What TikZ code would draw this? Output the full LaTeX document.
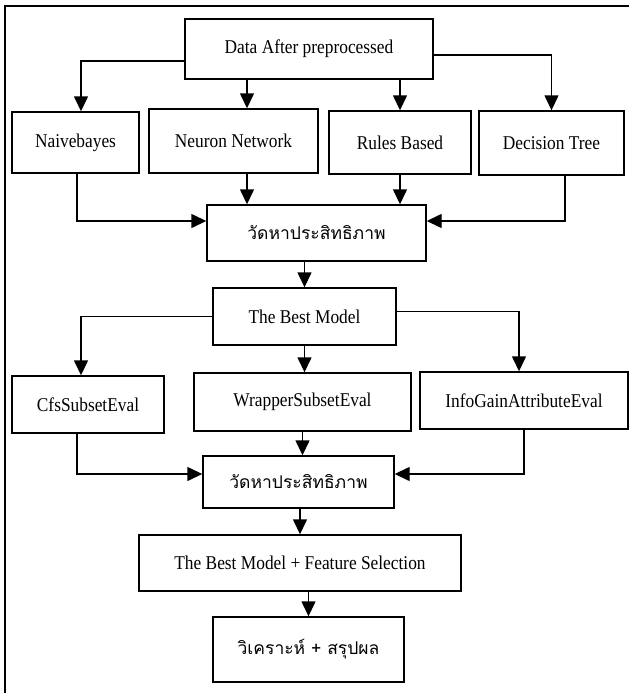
\documentclass[tikz,border=0pt]{standalone}
\usepackage{fontspec}
\setmainfont{Liberation Serif}[FakeStretch=0.89]
\newfontfamily\thaifont[Script=Thai]{Loma}
\usetikzlibrary{arrows.meta}

\begin{document}
\begin{tikzpicture}[x=1pt,y=-1pt,
  main/.style = {draw, line width=1.4pt, inner sep=0pt, font=\fontsize{19.5}{23}\selectfont},
  thai/.style = {font=\thaifont\fontsize{17.5}{22}\selectfont},
  arr/.style = {line width=1.4pt, -{Triangle[length=15pt,width=14pt]}}]
\useasboundingbox (0,0) rectangle (629,693);
\draw[line width=1.4pt] (5,693) -- (5,6) -- (629,6);
\node[main, minimum width=248pt, minimum height=60pt] (data) at (309,49) {Data After preprocessed};
\node[main, minimum width=127pt, minimum height=61pt] (nb) at (75.5,142.5) {Naivebayes};
\node[main, minimum width=169pt, minimum height=64pt] (nn) at (233.5,141) {Neuron Network};
\node[main, minimum width=142pt, minimum height=63pt] (rb) at (400,142.5) {Rules Based};
\node[main, minimum width=145pt, minimum height=64pt] (dt) at (551.5,143) {Decision Tree};
\node[main, thai, minimum width=219pt, minimum height=56pt] (eval1) at (316.5,233) {วัดหาประสิทธิภาพ};
\node[main, minimum width=183pt, minimum height=57pt] (best) at (304.5,316.5) {The Best Model};
\node[main, minimum width=152pt, minimum height=57pt] (cfs) at (88,404.5) {CfsSubsetEval};
\node[main, minimum width=217pt, minimum height=58pt] (wrap) at (302.5,402) {WrapperSubsetEval};
\node[main, minimum width=208pt, minimum height=57pt] (info) at (524,400.5) {InfoGainAttributeEval};
\node[main, thai, minimum width=191pt, minimum height=52pt] (eval2) at (298.5,482) {วัดหาประสิทธิภาพ};
\node[main, minimum width=322pt, minimum height=56pt] (bestfs) at (300,563) {The Best Model + Feature Selection};
\node[main, thai, minimum width=191pt, minimum height=65pt] (concl) at (308.5,649.5) {วิเคราะห์ + สรุปผล};
% classifiers
\draw[arr] ([yshift=-12pt]data.west) -| ([xshift=5.5pt]nb.north);
\draw[arr] ([xshift=13.5pt]nn.north |- data.south) -- ([xshift=13.5pt]nn.north);
\draw[arr] (rb.north |- data.south) -- (rb.north);
\draw[arr] ([yshift=-6pt]data.east) -| (dt.north);
\draw[arr] ([xshift=1.5pt]nb.south) |- ([yshift=12pt]eval1.west);
\draw[arr] ([xshift=13.5pt]nn.south) -- ([xshift=13.5pt]nn.south |- eval1.north);
\draw[arr] (rb.south) -- (rb.south |- eval1.north);
\draw[arr] ([xshift=13.5pt]dt.south) |- ([yshift=12pt]eval1.east);
\draw[arr] (best.north |- eval1.south) -- (best.north);
% feature selection
\draw[arr] (best.west) -| ([xshift=-7pt]cfs.north);
\draw[arr] (best.south) -- (best.south |- wrap.north);
\draw[arr] ([yshift=5pt]best.east) -| ([xshift=-5pt]info.north);
\draw[arr] ([xshift=-11pt]cfs.south) |- ([yshift=8pt]eval2.west);
\draw[arr] (wrap.south) -- (wrap.south |- eval2.north);
\draw[arr] (info.south) |- ([yshift=8pt]eval2.east);
\draw[arr] (bestfs.north |- eval2.south) -- (bestfs.north);
\draw[arr] (concl.north |- bestfs.south) -- (concl.north);
\end{tikzpicture}
\end{document}
